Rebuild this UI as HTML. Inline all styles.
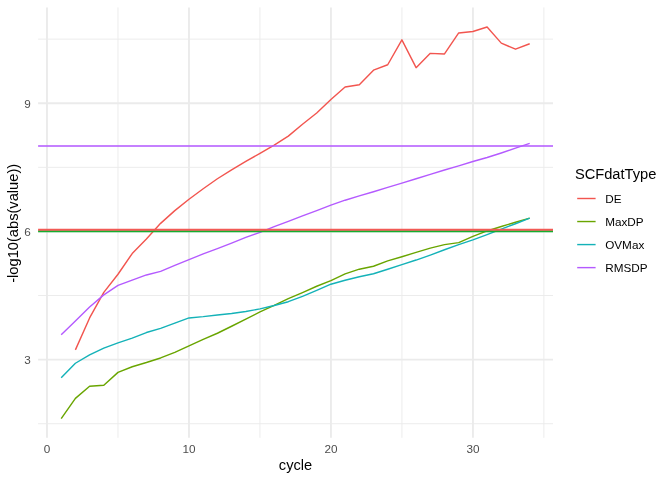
<!DOCTYPE html>
<html><head><meta charset="utf-8"><title>SCF convergence</title>
<style>
html,body{margin:0;padding:0;background:#fff;}
body{width:672px;height:480px;overflow:hidden;font-family:"Liberation Sans",sans-serif;}
svg{display:block;will-change:transform;}
text{font-family:"Liberation Sans",sans-serif;}
.tick{font-size:11.73px;fill:#4D4D4D;}
.ttl{font-size:14.67px;fill:#000;}
.lab{font-size:11.73px;fill:#000;}
</style></head><body>
<svg width="672" height="480" viewBox="0 0 672 480">
<rect x="0" y="0" width="672" height="480" fill="#ffffff"/>
<g stroke="#EBEBEB" stroke-width="0.95" fill="none">
<line x1="38.1" x2="553.0" y1="423.72" y2="423.72"/>
<line x1="38.1" x2="553.0" y1="295.53" y2="295.53"/>
<line x1="38.1" x2="553.0" y1="167.34" y2="167.34"/>
<line x1="38.1" x2="553.0" y1="39.16" y2="39.16"/>
<line y1="7.4" y2="437.8" x1="117.98" x2="117.98"/>
<line y1="7.4" y2="437.8" x1="259.95" x2="259.95"/>
<line y1="7.4" y2="437.8" x1="401.92" x2="401.92"/>
<line y1="7.4" y2="437.8" x1="543.89" x2="543.89"/>
</g>
<g stroke="#EBEBEB" stroke-width="1.9" fill="none">
<line x1="38.1" x2="553.0" y1="359.63" y2="359.63"/>
<line x1="38.1" x2="553.0" y1="231.44" y2="231.44"/>
<line x1="38.1" x2="553.0" y1="103.25" y2="103.25"/>
<line y1="7.4" y2="437.8" x1="47.00" x2="47.00"/>
<line y1="7.4" y2="437.8" x1="188.97" x2="188.97"/>
<line y1="7.4" y2="437.8" x1="330.94" x2="330.94"/>
<line y1="7.4" y2="437.8" x1="472.91" x2="472.91"/>
</g>
<g fill="none" stroke-width="1.42" stroke-linejoin="round" stroke-linecap="butt">
<polyline stroke="#F2554F" points="75.4,349.85 89.6,317.95 103.8,292.35 118.0,274.25 132.2,253.55 146.4,238.95 160.6,223.35 174.8,210.65 189.0,199.20 203.2,188.75 217.4,178.75 231.6,169.85 245.8,161.40 260.0,153.35 274.2,145.05 288.3,136.15 302.5,124.20 316.7,113.05 330.9,99.55 345.1,87.05 359.3,84.75 373.5,70.15 387.7,64.75 401.9,39.85 416.1,67.65 430.3,53.35 444.5,53.95 458.7,32.95 472.9,31.45 487.1,26.95 501.3,43.15 515.5,49.20 529.7,43.75"/>
<polyline stroke="#69A500" points="61.2,418.55 75.4,398.35 89.6,386.25 103.8,385.25 118.0,372.35 132.2,366.75 146.4,362.55 160.6,357.95 174.8,352.35 189.0,345.85 203.2,339.35 217.4,333.25 231.6,326.25 245.8,319.05 260.0,311.95 274.2,305.45 288.3,298.65 302.5,292.55 316.7,286.25 330.9,280.65 345.1,273.95 359.3,269.20 373.5,266.25 387.7,260.85 401.9,256.70 416.1,252.35 430.3,248.15 444.5,244.65 458.7,242.65 472.9,236.45 487.1,230.95 501.3,226.45 515.5,222.25 529.7,218.15"/>
<polyline stroke="#14B2B8" points="61.2,377.75 75.4,363.25 89.6,354.95 103.8,348.15 118.0,342.85 132.2,338.15 146.4,332.55 160.6,328.35 174.8,323.15 189.0,317.95 203.2,316.65 217.4,314.95 231.6,313.45 245.8,311.55 260.0,308.85 274.2,305.45 288.3,301.70 302.5,296.45 316.7,290.45 330.9,284.20 345.1,280.25 359.3,276.70 373.5,273.75 387.7,269.20 401.9,264.65 416.1,260.05 430.3,255.05 444.5,249.75 458.7,244.65 472.9,239.95 487.1,234.65 501.3,229.15 515.5,223.75 529.7,218.15"/>
<polyline stroke="#B45AFF" points="61.2,334.65 75.4,321.05 89.6,306.95 103.8,294.85 118.0,285.45 132.2,280.15 146.4,274.95 160.6,271.35 174.8,265.45 189.0,259.65 203.2,253.95 217.4,248.65 231.6,243.05 245.8,237.45 260.0,232.35 274.2,226.70 288.3,221.35 302.5,215.85 316.7,210.70 330.9,205.20 345.1,200.20 359.3,195.85 373.5,191.70 387.7,187.35 401.9,183.15 416.1,178.70 430.3,174.35 444.5,170.05 458.7,165.85 472.9,161.55 487.1,157.45 501.3,152.95 515.5,148.20 529.7,143.45"/>
</g>
<g fill="none" stroke-width="1.9">
<line x1="38.1" x2="553.0" y1="231.25" y2="231.25" stroke="#16AE30"/>
<line x1="38.1" x2="553.0" y1="229.7" y2="229.7" stroke="#F25A55"/>
<line x1="38.1" x2="553.0" y1="145.95" y2="145.95" stroke="#B45AFF" stroke-opacity="0.77"/>
</g>
<text class="tick" x="30.9" y="107.55" text-anchor="end">9</text>
<text class="tick" x="30.9" y="235.74" text-anchor="end">6</text>
<text class="tick" x="30.9" y="363.93" text-anchor="end">3</text>
<text class="tick" x="47.00" y="452.7" text-anchor="middle">0</text>
<text class="tick" x="188.97" y="452.7" text-anchor="middle">10</text>
<text class="tick" x="330.94" y="452.7" text-anchor="middle">20</text>
<text class="tick" x="472.91" y="452.7" text-anchor="middle">30</text>
<text class="ttl" x="295.5" y="469.7" text-anchor="middle">cycle</text>
<text class="ttl" transform="translate(17.75,223.3) rotate(-90)" text-anchor="middle">-log10(abs(value))</text>
<text class="ttl" x="574.9" y="179.1">SCFdatType</text>
<line x1="577.2" x2="595.6" y1="198.50" y2="198.50" stroke="#F2554F" stroke-width="1.42"/>
<text class="lab" x="605.2" y="202.60">DE</text>
<line x1="577.2" x2="595.6" y1="221.54" y2="221.54" stroke="#69A500" stroke-width="1.42"/>
<text class="lab" x="605.2" y="225.64">MaxDP</text>
<line x1="577.2" x2="595.6" y1="244.58" y2="244.58" stroke="#14B2B8" stroke-width="1.42"/>
<text class="lab" x="605.2" y="248.68">OVMax</text>
<line x1="577.2" x2="595.6" y1="267.62" y2="267.62" stroke="#B45AFF" stroke-width="1.42"/>
<text class="lab" x="605.2" y="271.72">RMSDP</text>
</svg>
</body></html>
